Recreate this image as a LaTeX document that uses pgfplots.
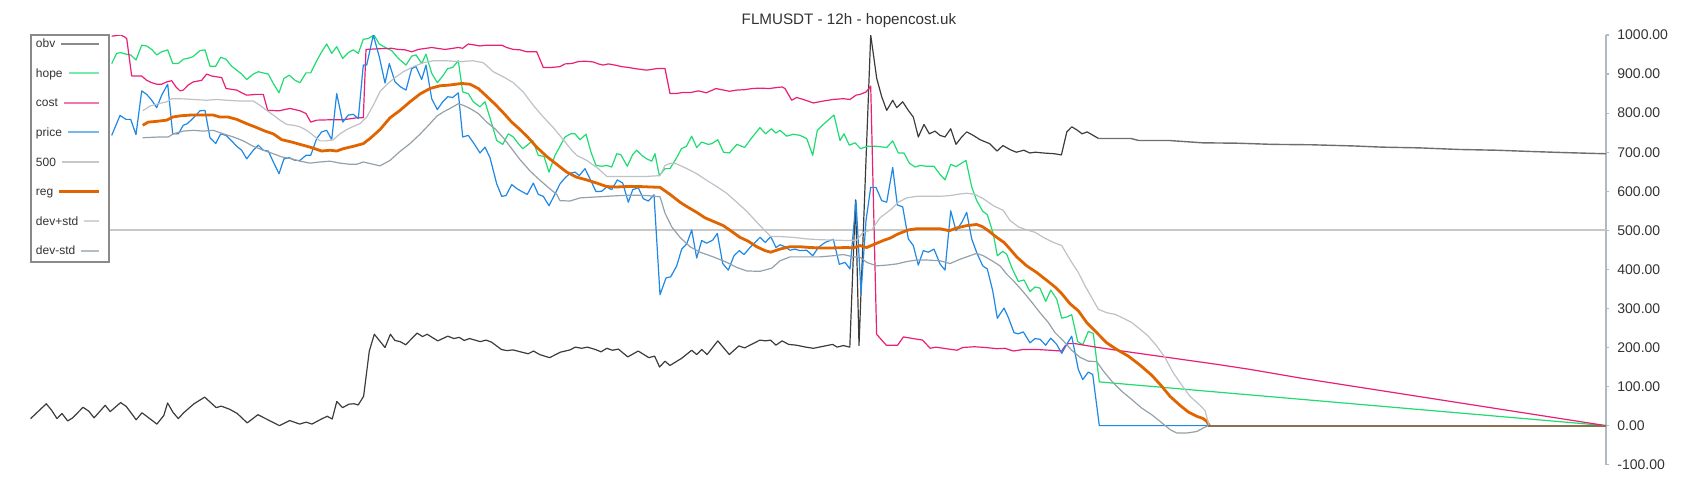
\documentclass[border=0pt]{standalone}
\usepackage{pgfplots}
\pgfplotsset{compat=1.18}
\usepackage{fontspec}
\setmainfont{Liberation Sans}
\definecolor{obvc}{HTML}{3C3C3C}
\definecolor{obvtail}{HTML}{6E6E6E}
\definecolor{hopec}{HTML}{1EDC72}
\definecolor{costc}{HTML}{E91E74}
\definecolor{pricec}{HTML}{1E88E5}
\definecolor{fivec}{HTML}{C8C8C8}
\definecolor{regc}{HTML}{E06400}
\definecolor{devpc}{HTML}{BCC2C7}
\definecolor{devmc}{HTML}{95A1AA}
\definecolor{tailc}{HTML}{8C6E50}
\definecolor{axisc}{HTML}{B0BAC2}
\definecolor{textc}{HTML}{333333}
\definecolor{legc}{HTML}{8A8A8A}
\newcommand{\legitem}[3]{\makebox[34pt][l]{#1\hspace{3pt}{\color{#2}\leaders\hrule height #3\hskip 0pt plus 1fill}\hspace{2.5pt}}}
\begin{document}
\begin{tikzpicture}
\path[use as bounding box] (0pt,0pt) rectangle (850pt,250pt);
\begin{axis}[
  at={(15pt,17.65pt)}, anchor=south west,
  scale only axis, width=788pt, height=214.85pt,
  xmin=30, xmax=1606, ymin=-100, ymax=1000,
  axis x line=none, axis y line=right,
  y axis line style={-, draw=axisc, line width=0.9pt},
  ytick={-100,0,100,200,300,400,500,600,700,800,900,1000},
  tick align=outside, major tick length=1.5pt,
  ytick style={draw=axisc, line width=0.6pt},
  yticklabel style={font=\fontsize{7}{8}\selectfont, text=textc, inner sep=0pt, xshift=4pt,
    /pgf/number format/fixed, /pgf/number format/fixed zerofill,
    /pgf/number format/precision=2, /pgf/number format/1000 sep={},
    /pgf/number format/assume math mode=true},
  every axis plot/.append style={mark=none, line join=round},
  legend plot pos=none, legend cell align=left,
  legend style={at={(0,1)}, anchor=north west, yshift=0.4pt, draw=legc, line width=0.75pt,
    fill=white, inner xsep=2.6pt, inner ysep=2pt, row sep=9pt,
    font=\fontsize{6}{7}\selectfont, text=textc,
    nodes={inner sep=0pt, text height=4.4pt, text depth=1.4pt}},
]
% 500 line
\addplot[forget plot, fivec, line width=0.9pt] coordinates {(30,500) (1606,500)};
% obv
\addplot[obvc, line width=0.6pt] coordinates {
(30.6,18)(46.3,56)(51.7,39)(57,18)(62,31)(67.7,12)(72.7,20)(83,47)(88.8,37)(94.1,20)(105.2,52)(110.2,36)(120.6,59)(126.3,49)(136.2,15)(142,33)(156.9,4)(163.8,26)(167.6,58)(173,34)(178.3,18)(183.7,33)(194,56)(204.7,73)(216.2,46)(221.2,50)(229.6,42)(237.3,31)(247.2,7)(257.9,28)(267.9,15)(279.4,0)(289.7,13)(299.7,4)(306.2,9)(311.9,4)(321.5,17)(327.2,24)(332.2,17)(336.8,62)(342.5,46)(349,55)(354,56)(358.2,53)(363.6,75)(369.3,191)(374.3,234)(385,200)(390.4,234)(394.9,218)(400.3,215)(405.7,207)(417.1,237)(422.5,228)(427.1,234)(437.8,217)(447.8,229)(453.9,223)(459.2,226)(464.2,218)(469.6,223)(480.3,215)(486,219)(491.4,214)(501.3,195)(507.1,192)(512.8,194)(528.1,184)(533.5,191)(539.6,182)(549.6,174)(560.3,188)(570.2,194)(575.2,201)(581.7,198)(587.4,201)(595.3,195)(601,189)(606.8,198)(612.5,193)(618.3,196)(627.8,176)(638.2,191)(648.9,174)(654.6,178)(659.6,150)(665,165)(669.9,154)(681.4,172)(691.7,193)(696.7,182)(701.7,195)(707.1,182)(717.8,217)(729.3,182)(738.8,204)(744.6,199)(759.9,219)(765.6,217)(770.6,219)(775.9,206)(782.1,217)(788.6,208)(796.2,206)(805.8,201)(813.4,198)(823,203)(832.6,208)(837.2,201)(843.3,205)(849.8,201)(855.5,578)(859,205)(870.7,1000)(876.7,889)(881.7,842)(886.7,807)(892.7,833)(896.7,814)(902.7,829)(908.3,807)(913.3,790)(918.3,739)(924,771)(929.3,747)(935,754)(940,743)(945,739)(950.7,760)(956,720)(961.7,739)(966.7,752)(973.3,743)(980,732)(989.5,722)(997.1,703)(1002.9,717)(1010.5,706)(1016.3,700)(1023.9,705)(1029.7,698)(1035.4,700)(1043.1,698)(1054.6,696)(1061.4,693)(1066.8,752)(1071.8,765)(1077.5,756)(1082.1,747)(1087.1,752)(1098.6,735)};
\addlegendentry{\legitem{obv}{obvc!60!white}{2.6pt depth -1.6pt}}
\addplot[forget plot, obvtail, line width=0.7pt] coordinates {
(1098.6,735)(1131,735)(1138.7,730)(1169,730)(1180,728)(1202.6,724)(1237.7,723)(1272.8,720)(1311.3,719)(1353.4,716)(1381.5,713)(1420.1,711)(1458.6,707)(1497.2,705)(1528.8,702)(1563.9,699)(1606,696)};
% hope
\addplot[hopec, line width=0.6pt] coordinates {
(111.7,927)(116.7,953)(120.7,955)(126,951)(130.7,949)(136,936)(141.7,974)(146.7,972)(151.7,963)(156.7,949)(161.7,957)(167.7,962)(172.7,927)(178.3,927)(183.3,938)(187.3,940)(192.7,944)(200,960)(205,962)(210,920)(215.7,920)(220.7,943)(226,938)(231.7,920)(236.7,910)(241.7,900)(246.7,886)(253.3,900)(258.3,906)(263.3,903)(268.3,900)(273.3,876)(279,852)(284,889)(289.3,897)(295,884)(300,878)(306,903)(310.7,903)(316.7,934)(321.7,957)(326.7,977)(331.7,953)(336.7,970)(342.7,940)(348.3,955)(353.3,962)(358.3,953)(363.3,989)(368.3,991)(374,1000)(379.3,977)(386.7,966)(391.7,960)(398.3,940)(406,923)(411.7,946)(416,949)(421.7,927)(426,951)(431.7,902)(437.3,878)(442.7,895)(447.7,914)(452.7,917)(458.3,934)(462.7,854)(468.3,850)(473.3,829)(480,816)(485,829)(490.7,782)(496.7,730)(502.7,720)(508.3,747)(513.3,739)(518.3,722)(522.7,709)(527.3,718)(532.7,730)(538.3,692)(544,689)(549,649)(555,692)(560,715)(565,739)(570.7,747)(575,747)(580,732)(586,746)(591,700)(596,666)(601.7,664)(606.7,666)(611.7,662)(616.7,696)(620.7,694)(627.3,664)(632.7,694)(636.7,705)(641.7,692)(646.7,683)(651.7,677)(655,696)(659.3,640)(665,658)(670,658)(676.7,686)(681.4,709)(686.4,715)(691.7,741)(696.7,712)(701.7,726)(708.2,720)(712,722)(717.8,732)(723.5,700)(729.3,698)(736.9,720)(744.6,712)(750.3,732)(759.9,763)(765.6,747)(771.4,760)(775.9,749)(780,756)(786.7,741)(793.3,746)(800,743)(806.7,735)(812.7,692)(817.3,756)(825,775)(834,795)(840,730)(844,747)(849.3,718)(855,724)(860.7,709)(867.3,715)(876.7,715)(886.7,712)(892.7,729)(898.3,698)(904,698)(909.3,672)(915,662)(920,666)(926.7,664)(934,664)(940,643)(945,629)(950.7,669)(956,663)(966,679)(971.7,611)(976.7,576)(982.7,549)(987.3,540)(993.3,491)(997.3,435)(1002.7,446)(1006.7,439)(1011.7,405)(1018.3,369)(1024,373)(1030,343)(1035,355)(1040,352)(1045.7,318)(1050.7,347)(1056.7,324)(1061.7,275)(1066.7,278)(1071.7,284)(1077.7,215)(1082.7,207)(1088.3,241)(1093.3,236)(1099.3,112)(1606,0)};
\addlegendentry{\legitem{hope}{hopec!60!white}{2.6pt depth -1.6pt}}
% cost
\addplot[costc, line width=0.6pt] coordinates {
(111.7,997)(120.7,1000)(124,996)(126.7,991)(131.7,895)(141.7,895)(146.7,884)(151.7,878)(156.7,874)(161.7,874)(166.7,880)(171.7,883)(176,867)(180,857)(183.3,859)(188.3,872)(193.3,880)(201.7,884)(206.7,900)(211.7,895)(221.7,891)(226,863)(236.7,859)(241.7,852)(246.7,846)(256.7,848)(263.3,848)(267.7,807)(279.3,806)(284.3,809)(290,812)(300,806)(306,799)(310.7,777)(316.7,782)(330,783)(343.3,783)(356.7,788)(363.3,788)(366,963)(380,965)(391.7,966)(398.3,963)(405,962)(411.7,957)(418.3,963)(431.7,968)(445,963)(458.3,968)(462.7,966)(468.3,977)(480,972)(486.7,974)(501.7,974)(506.7,968)(513.3,963)(520,962)(526.7,957)(536.7,957)(543.3,917)(551.7,917)(560,919)(565,926)(571.7,927)(578.3,932)(585,933)(593.3,931)(598.3,926)(603.3,923)(608.3,926)(615,923)(621.7,919)(628.3,917)(635,914)(646.7,910)(656.7,914)(665,914)(670,850)(675.7,850)(683.3,853)(691,853)(698.6,857)(706.3,852)(715.9,863)(721.6,860)(729.3,856)(736.9,859)(744.6,860)(752.2,863)(759.9,864)(769.4,863)(775.2,865)(782.1,867)(785,863)(791.7,833)(796.7,840)(803.3,835)(813.3,826)(823.3,831)(833.3,835)(843.3,837)(850,835)(856,846)(860,848)(866,854)(870.7,869)(876.6,234)(886.2,206)(897.6,206)(903.4,227)(912.9,223)(922.5,219)(930.2,198)(935.9,201)(943.6,198)(957,193)(962.7,200)(974.2,202)(985.7,200)(997.1,197)(1004.8,198)(1013.3,191)(1023.3,195)(1036.7,195)(1050,193)(1061.7,191)(1065,204)(1068.3,210)(1075,210)(1093.3,202)(1116.7,193)(1150,181)(1183.3,169)(1216.7,157)(1250,144)(1300,122)(1606,0)};
\addlegendentry{\legitem{cost}{costc!60!white}{2.6pt depth -1.6pt}}
% price
\addplot[pricec, line width=0.6pt] coordinates {
(111.7,743)(120,794)(126,784)(130.7,784)(136,745)(141.7,857)(146.7,848)(151.7,833)(156.7,814)(161.7,846)(167.7,874)(172.7,747)(178.3,747)(183.3,769)(187.3,773)(192.7,786)(200,806)(205,807)(210,737)(215.7,722)(220.7,747)(226,743)(231.7,729)(236.7,715)(241.7,705)(246.7,683)(253.3,705)(258.3,718)(263.3,705)(268.3,703)(273.3,675)(279,645)(284,683)(289.3,686)(295,679)(300,679)(306,692)(310.7,692)(316.7,735)(321.7,752)(326.7,756)(331.7,732)(336.7,850)(342.7,777)(348.3,795)(353.3,797)(358.3,786)(363.3,923)(366.7,923)(373.3,1000)(379.3,944)(385,877)(389.3,927)(395,880)(400.7,867)(406,859)(411.7,914)(416,919)(421.7,886)(426,923)(431.7,837)(437.3,809)(442.7,829)(447.7,842)(452.7,840)(458.3,852)(462.7,739)(468.3,743)(474,722)(480,698)(485,713)(490,686)(496.7,619)(501.7,587)(506,589)(511.7,617)(517.3,606)(522.7,598)(527.3,592)(533.3,621)(538.3,592)(543.3,587)(549,563)(555,593)(560,619)(565,634)(570,646)(575,649)(579.3,640)(585,658)(590.7,628)(596,599)(601.7,600)(606.7,611)(611.7,604)(617.3,629)(622.7,621)(628.3,572)(632.7,604)(638.3,609)(643.3,581)(648.3,575)(654,591)(660,335)(666,378)(670.7,381)(676.7,409)(681.7,452)(686.7,465)(691.7,501)(696.7,429)(701.7,474)(706.7,467)(712.7,475)(717.3,492)(722.7,415)(728.3,398)(734,435)(739.3,448)(744,438)(750,456)(755,469)(760,482)(765.3,469)(770.7,484)(776,456)(780,463)(785,458)(790,449)(795,452)(800,448)(806.7,449)(812.7,435)(818.3,456)(825,469)(833.3,477)(839.3,413)(845,418)(850,401)(856,576)(861,341)(866,525)(870.7,610)(876,610)(881.7,576)(886.7,572)(892.7,661)(897.3,565)(902.7,560)(908.3,478)(913.3,461)(918.3,411)(923.3,448)(928.3,444)(934,452)(940,414)(945,398)(950.7,550)(956,499)(961.7,520)(966.7,546)(971.7,478)(976.7,443)(982.7,409)(987.3,401)(992.7,345)(997.3,275)(1004,301)(1008.3,277)(1014,238)(1018.3,235)(1023.3,240)(1030,212)(1035,223)(1040,221)(1045.7,206)(1050.7,224)(1056.7,208)(1061.7,185)(1066.7,208)(1071.7,229)(1078.3,144)(1082.7,118)(1088.3,137)(1092.7,131)(1099.3,0)(1606,0)};
\addlegendentry{\legitem{price}{pricec!60!white}{2.6pt depth -1.6pt}}
\addlegendimage{empty legend}
\addlegendentry{\legitem{500}{fivec}{2.6pt depth -1.6pt}}
% reg
\addplot[regc, line width=1.4pt] coordinates {
(142.7,769)(148.3,777)(156.7,779)(166.7,782)(172.7,790)(180,793)(190,795)(200,795)(213.3,795)(220,790)(228.3,790)(236.7,784)(246.7,773)(256.7,763)(265,754)(273.3,747)(281.7,732)(291.7,726)(300,720)(310,713)(321.7,703)(330,705)(336.7,703)(343.3,709)(353.3,715)(363.3,722)(370,735)(380,758)(390,788)(400,807)(410,829)(420,849)(430,863)(440,870)(450,872)(461.7,876)(470,874)(478.3,863)(486.7,843)(495,823)(503.3,801)(511.7,777)(520,758)(528.3,737)(536.7,713)(546.7,689)(556.7,669)(566.7,649)(576.7,636)(586.7,629)(596.7,621)(606.7,612)(616.7,611)(626.7,612)(640,612)(650,611)(660,610)(670,592)(680,572)(686.7,561)(696.7,546)(705,532)(713.3,523)(723.3,512)(731.7,497)(740,482)(748.3,472)(756.7,458)(765,448)(770.7,444)(780,452)(790,458)(800,458)(810,456)(820,455)(833.3,455)(846.7,456)(853.3,455)(860,461)(866.7,456)(875,465)(883.3,474)(890,480)(898.3,491)(908.3,501)(916.7,504)(926.7,504)(940,504)(949.3,499)(956.7,506)(966.7,512)(976.7,515)(982.7,509)(988.3,499)(996.7,482)(1004,469)(1010,452)(1016.7,432)(1026.7,409)(1036.7,392)(1046.7,372)(1055,355)(1061.7,338)(1070,312)(1078.3,294)(1086.7,264)(1096.7,238)(1106.7,212)(1116.7,195)(1128.3,178)(1140,155)(1151.7,129)(1161.7,101)(1170,75)(1180,52)(1188.3,35)(1196.7,24)(1203.3,18)(1206.7,11)(1209.3,0)};
\addlegendentry{\legitem{reg}{regc}{2.9pt depth -1.3pt}}
% dev+std
\addplot[devpc, line width=0.6pt] coordinates {
(142.7,806)(150,818)(158.3,824)(166.7,829)(171.7,837)(180,837)(193.3,835)(206.7,833)(216.7,835)(226.7,833)(240,831)(253.3,831)(260,820)(266.7,807)(273.3,795)(280,782)(286.7,771)(293.3,769)(300,765)(306.7,756)(313.3,743)(320,729)(326.7,729)(333.3,732)(340,747)(346.7,758)(353.3,766)(360,773)(366.7,790)(373.3,820)(380,855)(386.7,873)(395,891)(403.3,906)(413.3,919)(423.3,929)(433.3,934)(446.7,934)(460,932)(473.3,934)(483.3,929)(493.3,906)(503.3,893)(513.3,878)(523.3,854)(533.3,820)(543.3,790)(553.3,763)(563.3,732)(571.7,705)(576.7,692)(586.7,679)(598.3,658)(606.7,638)(646.7,638)(660,640)(665,666)(670.7,672)(676.7,670)(686.7,658)(696.7,645)(706.7,628)(716.7,612)(726.7,595)(736.7,572)(746.7,549)(756.7,521)(765,499)(770.7,484)(780,484)(793.3,482)(806.7,478)(820,476)(833.3,475)(846.7,474)(856.7,475)(863.3,495)(871.7,501)(880,532)(891.7,555)(898.3,572)(906.7,583)(916.7,587)(940,587)(950,589)(960,593)(966.7,595)(975,592)(983.3,581)(993.3,563)(1003.3,551)(1010,525)(1018.3,509)(1026.7,501)(1035,495)(1043.3,482)(1053.3,469)(1061.7,461)(1066.7,439)(1071.7,418)(1078.3,392)(1085,358)(1091.7,328)(1098.3,298)(1106.7,289)(1115,285)(1123.3,275)(1131.7,264)(1140,247)(1148.3,229)(1156.7,204)(1165,174)(1173.3,135)(1181.7,104)(1190,75)(1200,52)(1205,39)(1209,0)};
\addlegendentry{\legitem{dev+std}{devpc!70!white}{2.6pt depth -1.6pt}}
% dev-std
\addplot[devmc, line width=0.6pt] coordinates {
(142.7,737)(160,739)(168.3,739)(173.3,747)(183.3,754)(193.3,756)(203.3,754)(213.3,756)(223.3,747)(233.3,739)(243.3,729)(253.3,715)(263.3,705)(273.3,696)(281.7,688)(291.7,683)(300,677)(310,672)(320,675)(330,677)(340,672)(350,669)(356.7,669)(363.3,675)(373.3,669)(380,665)(390,679)(400,702)(410,722)(420,746)(430,773)(436.7,792)(443.3,803)(450,812)(458.3,824)(463.3,820)(470,812)(478.3,799)(486.7,777)(495,760)(503.3,737)(511.7,709)(520,681)(530,652)(540,628)(550,606)(556.7,592)(560,576)(570,575)(580,583)(593.3,585)(606.7,587)(620,589)(633.3,590)(646.7,589)(660,586)(665,544)(671.7,509)(680,482)(690,458)(700,444)(713.3,432)(726.7,418)(736.7,405)(746.7,396)(760,395)(771.7,403)(780,422)(790,432)(806.7,432)(820,432)(833.3,435)(843.3,438)(853.3,432)(860,431)(866.7,418)(876.7,409)(886.7,411)(896.7,414)(906.7,420)(916.7,424)(926.7,424)(940,422)(950,415)(960,426)(970,435)(976.7,441)(983.3,435)(993.3,420)(1000,409)(1006.7,388)(1013.3,371)(1020,352)(1026.7,332)(1033.3,311)(1040,289)(1048.3,264)(1055,238)(1063.3,217)(1071.7,193)(1080,175)(1088.3,165)(1096.7,164)(1103.3,140)(1111.7,114)(1121.7,88)(1131.7,67)(1141.7,45)(1151.7,28)(1160,11)(1170,-10)(1176.7,-19)(1186.7,-19)(1196.7,-15)(1203.3,-6)(1208.3,0)};
\addlegendentry{\legitem{dev-std}{devmc!70!white}{2.6pt depth -1.6pt}}
% overlapping zero tail
\addplot[forget plot, tailc, line width=1.1pt] coordinates {(1208.3,0) (1606,0)};
\end{axis}
\node[font=\fontsize{7.6}{9}\selectfont, text=textc] at (424.5pt,239.6pt) {FLMUSDT - 12h - hopencost.uk};
\end{tikzpicture}
\end{document}
